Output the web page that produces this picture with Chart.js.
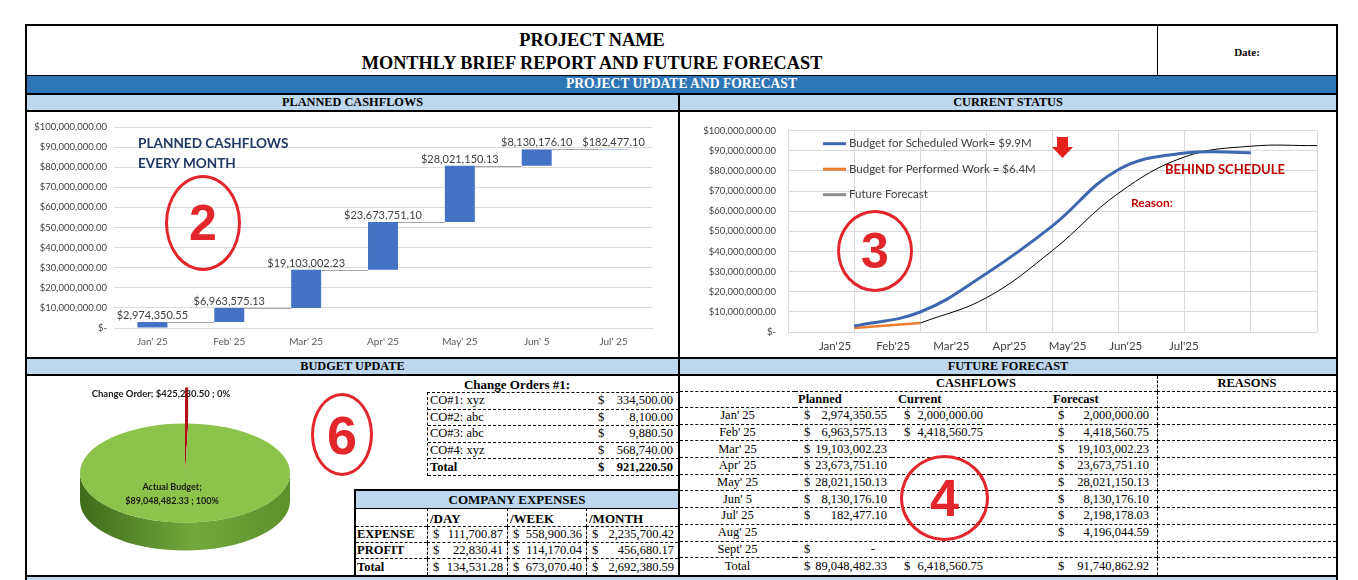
<!DOCTYPE html>
<html>
<head>
<meta charset="utf-8">
<title>Monthly Brief Report and Future Forecast</title>
<script src="https://cdn.jsdelivr.net/npm/chart.js@4.4.1/dist/chart.umd.min.js"></script>
<style>
  body { margin: 0; width: 1358px; height: 580px; overflow: hidden; background: #fff; position: relative; font-family: "Liberation Serif", "Times New Roman", serif; color: #000; }
  .abs { position: absolute; box-sizing: border-box; }
  .line { position: absolute; background: #000; }
  .band { position: absolute; background: #bdd7ee; font-weight: bold; font-size: 12.3px; text-align: center; line-height: 15px; }
  .ring { position: absolute; box-sizing: border-box; border: 3.5px solid #e2262b; border-radius: 50%; display: flex; align-items: center; justify-content: center; color: #e2262b; font: bold 50px/1 "Liberation Sans", Arial, sans-serif; }
  .grid { position: absolute; display: grid; font-size: 12.5px; }
  .grid > div { display: flex; align-items: center; box-sizing: border-box; border-bottom: 1px dashed #000; white-space: nowrap; overflow: hidden; }
  .money { justify-content: space-between; }
  .b { font-weight: bold; }
  .note { position: absolute; font-family: Lato, sans-serif; font-weight: bold; white-space: nowrap; }
</style>
</head>
<body>

<!-- header -->
<div class="abs" style="left:25px; top:24px; width:1313px; height:53px; border:2px solid #000;"></div>
<div class="line" style="left:1157px; top:24px; width:1px; height:53px;"></div>
<div class="abs b" style="left:27px; top:29px; width:1130px; text-align:center; font-size:18.3px; line-height:23px;">PROJECT NAME<br>MONTHLY BRIEF REPORT AND FUTURE FORECAST</div>
<div class="abs b" style="left:1158px; top:46px; width:178px; text-align:center; font-size:11px;">Date:</div>

<!-- blue band -->
<div class="abs b" style="left:25px; top:76px; width:1313px; height:19px; background:#2e75b6; color:#fff; border:2px solid #000; border-top:0; text-align:center; font-size:13.6px; line-height:16px;">PROJECT UPDATE AND FORECAST</div>

<!-- outer side borders -->
<div class="line" style="left:25px; top:95px; width:2px; height:485px;"></div>
<div class="line" style="left:1336px; top:95px; width:2px; height:485px;"></div>

<!-- section bands -->
<div class="band" style="left:27px; top:95px; width:651px; height:15px;">PLANNED CASHFLOWS</div>
<div class="band" style="left:680px; top:95px; width:656px; height:15px;">CURRENT STATUS</div>
<div class="line" style="left:27px; top:110px; width:1309px; height:2px;"></div>

<div class="line" style="left:27px; top:357px; width:1309px; height:2px;"></div>
<div class="band" style="left:27px; top:359px; width:651px; height:15px;">BUDGET UPDATE</div>
<div class="band" style="left:680px; top:359px; width:656px; height:15px;">FUTURE FORECAST</div>
<div class="line" style="left:27px; top:374px; width:1309px; height:2px;"></div>

<div class="line" style="left:27px; top:575px; width:1309px; height:2px;"></div>
<div class="abs" style="left:27px; top:577px; width:1309px; height:3px; background:#bdd7ee;"></div>

<div class="line" style="left:678px; top:95px; width:2px; height:482px;"></div>

<!-- charts -->
<div class="abs" style="left:30px; top:113px; width:644px; height:242px;"><canvas id="flowChart"></canvas></div>
<div class="abs" style="left:684px; top:113px; width:650px; height:242px;"><canvas id="statusChart"></canvas></div>
<div class="abs" style="left:70px; top:378px; width:230px; height:190px;"><canvas id="budgetPie"></canvas></div>

<!-- chart notes -->
<div class="note" style="left:138px; top:133px; font-size:13.6px; line-height:20px; color:#203864;">PLANNED CASHFLOWS<br>EVERY MONTH</div>
<div class="ring" style="left:165px; top:175px; width:76px; height:96px;">2</div>

<div class="ring" style="left:837px; top:210px; width:76px; height:82px;">3</div>
<svg class="abs" style="left:1052px; top:137px;" width="21" height="21"><polygon points="5,0 16,0 16,10 21,10 10.5,21 0,10 5,10" fill="#e8201c"/></svg>
<div class="note" style="left:1165px; top:161px; font-size:13px; color:#c00000;">BEHIND SCHEDULE</div>
<div class="note" style="left:1131px; top:195px; font-size:12px; color:#c00000;">Reason:</div>

<!-- change orders -->
<div class="abs b" style="left:355px; top:377px; width:324px; text-align:center; font-size:13px; line-height:15px;">Change Orders #1:</div>
<div class="grid" id="coTable" style="left:427px; top:392px; width:251px; grid-template-columns:163px 1fr; grid-auto-rows:16.6px; border-top:1px dashed #000; border-left:1px dashed #000;"></div>
<div class="ring" style="left:311px; top:393px; width:62px; height:83px; font-size:54px;">6</div>

<!-- company expenses -->
<div class="abs" style="left:354px; top:489px; width:325px; height:88px; border-left:2px solid #000; border-top:2px solid #000;"></div>
<div class="band" style="left:356px; top:491px; width:322px; height:17px; font-size:13px; line-height:17px; border-bottom:1px solid #000;">COMPANY EXPENSES</div>
<div class="grid" id="expTable" style="left:356px; top:508px; width:322px; grid-template-columns:71px 80px 79px 1fr; grid-template-rows:19px 16px 16px 16px;"></div>

<!-- future forecast -->
<div class="grid" id="ffTable" style="left:680px; top:376px; width:656px; grid-template-columns:115px 97px 98px 60px 107px 1fr; grid-template-rows:16px 16px repeat(10, 16.7px);"></div>
<div class="ring" style="left:900px; top:455px; width:89px; height:86px; font-size:52px;">4</div>

<script>
// planned cashflow waterfall
const flowMonths = ["Jan' 25", "Feb' 25", "Mar' 25", "Apr' 25", "May' 25", "Jun' 5", "Jul' 25"];
const plannedFlows = [2974350.55, 6963575.13, 19103002.23, 23673751.10, 28021150.13, 8130176.10, 182477.10];

// current status S-curves (x = month number, 1 = Jan)
const statusMonths = ["Jan'25", "Feb'25", "Mar'25", "Apr'25", "May'25", "Jun'25", "Jul'25"];
const scheduledStart = 1;
const scheduledWork = [2974350.55, 9937925.68, 29040927.91, 52714679.01, 80735829.14, 88866005.24, 89048482.34];
const performedStart = 1;
const performedWork = [2000000, 4418560.75];
const forecastStart = 2;
const futureForecast = [4418560.75, 17000000, 40500000, 69000000, 87000000, 92300000, 92600000];

// budget pie
const budgetLabels = ['Change Order', 'Actual Budget'];
const budgetValues = [425230.50, 89048482.33];

// tables
const coNames = ['CO#1: xyz', 'CO#2: abc', 'CO#3: abc', 'CO#4: xyz', 'Total'];
const coAmounts = ['334,500.00', '8,100.00', '9,880.50', '568,740.00', '921,220.50'];

const expRows = ['EXPENSE', 'PROFIT', 'Total'];
const expDay = ['111,700.87', '22,830.41', '134,531.28'];
const expWeek = ['558,900.36', '114,170.04', '673,070.40'];
const expMonth = ['2,235,700.42', '456,680.17', '2,692,380.59'];

const ffMonths = ["Jan' 25", "Feb' 25", "Mar' 25", "Apr' 25", "May' 25", "Jun' 5", "Jul' 25", "Aug' 25", "Sept' 25", 'Total'];
const ffPlanned = ['2,974,350.55', '6,963,575.13', '19,103,002.23', '23,673,751.10', '28,021,150.13', '8,130,176.10', '182,477.10', '', '-', '89,048,482.33'];
const ffCurrent = ['2,000,000.00', '4,418,560.75', '', '', '', '', '', '', '', '6,418,560.75'];
const ffForecast = ['2,000,000.00', '4,418,560.75', '19,103,002.23', '23,673,751.10', '28,021,150.13', '8,130,176.10', '2,198,178.03', '4,196,044.59', '', '91,740,862.92'];

function money(v) {
    return '$' + v.toLocaleString('en-US', { minimumFractionDigits: 2, maximumFractionDigits: 2 });
}
function axisMoney(v) {
    return v === 0 ? '$-' : money(v);
}
function cell(html, style) {
    return `<div style="${style || ''}">${html}</div>`;
}
function moneyCell(v, style) {
    if (v === '') return cell('', style);
    const pad = v === '-' ? 'padding-right:12px;' : '';
    return `<div class="money" style="${style || ''}"><span>$</span><span style="${pad}">${v}</span></div>`;
}

// ---- tables ----
let html = '';
coNames.forEach((name, i) => {
    const last = i === coNames.length - 1;
    const bold = last ? 'font-weight:bold;' : '';
    html += cell(name, bold + 'padding-left:2px;');
    html += moneyCell(coAmounts[i], bold + 'padding:0 6px 0 7px;');
});
document.getElementById('coTable').innerHTML = html;

html = cell('', '') +
    cell('/DAY', 'font-weight:bold; font-size:13px; border-left:1px dashed #000; padding:3px 0 0 2px;') +
    cell('/WEEK', 'font-weight:bold; font-size:13px; border-left:1px dashed #000; padding:3px 0 0 2px;') +
    cell('/MONTH', 'font-weight:bold; font-size:13px; border-left:1px dashed #000; padding:3px 0 0 2px;');
expRows.forEach((name, i) => {
    const edge = i === expRows.length - 1 ? 'border-bottom:0;' : '';
    html += cell(name, 'font-weight:bold; padding-left:1px;' + edge);
    html += moneyCell(expDay[i], 'border-left:1px dashed #000; padding:0 4px 0 5px;' + edge);
    html += moneyCell(expWeek[i], 'border-left:1px dashed #000; padding:0 4px 0 5px;' + edge);
    html += moneyCell(expMonth[i], 'border-left:1px dashed #000; padding:0 4px 0 5px;' + edge);
});
document.getElementById('expTable').innerHTML = html;

const reasonCol = 'border-left:1px dashed #000;';
html = cell('', '') +
    `<div style="grid-column: span 4; justify-content:center; font-weight:bold;">CASHFLOWS</div>` +
    cell('REASONS', 'font-weight:bold; justify-content:center;' + reasonCol) +
    cell('', '') +
    cell('Planned', 'font-weight:bold; padding-left:3px;') +
    cell('Current', 'font-weight:bold; padding-left:6px;') +
    cell('', '') +
    cell('Forecast', 'font-weight:bold; padding-left:3px;') +
    cell('', reasonCol);
ffMonths.forEach((m, i) => {
    const edge = i === ffMonths.length - 1 ? 'border-bottom:0;' : '';
    html += cell(m, 'justify-content:center;' + edge);
    html += moneyCell(ffPlanned[i], 'padding:0 5px 0 9px;' + edge);
    html += moneyCell(ffCurrent[i], 'padding:0 7px 0 12px;' + edge);
    html += cell('', edge);
    html += moneyCell(ffForecast[i], 'padding:0 8px 0 8px;' + edge);
    html += cell('', reasonCol + edge);
});
document.getElementById('ffTable').innerHTML = html;

// ---- charts ----
Chart.defaults.font.family = 'Lato, sans-serif';
Chart.defaults.color = '#404040';
Chart.defaults.animation = false;

// waterfall: each bar floats from the running total
let running = 0;
const steps = plannedFlows.map(v => {
    const s = [running, running + v];
    running += v;
    return s;
});

const waterfallExtras = {
    id: 'waterfallExtras',
    afterDatasetsDraw(chart) {
        const { ctx } = chart;
        const yScale = chart.scales.y;
        const bars = chart.getDatasetMeta(0).data;
        ctx.save();
        // connectors
        ctx.strokeStyle = '#a6a6a6';
        ctx.lineWidth = 1;
        for (let i = 0; i < bars.length - 1; i++) {
            const y = Math.round(yScale.getPixelForValue(steps[i][1])) + 0.5;
            ctx.beginPath();
            ctx.moveTo(bars[i].x + bars[i].width / 2, y);
            ctx.lineTo(bars[i + 1].x - bars[i + 1].width / 2, y);
            ctx.stroke();
        }
        // value labels
        ctx.fillStyle = '#404040';
        ctx.font = '11px Lato, sans-serif';
        ctx.textAlign = 'center';
        ctx.textBaseline = 'bottom';
        bars.forEach((bar, i) => {
            ctx.fillText(money(plannedFlows[i]), bar.x, yScale.getPixelForValue(steps[i][1]) - 1);
        });
        ctx.restore();
    }
};

new Chart(document.getElementById('flowChart'), {
    type: 'bar',
    data: {
        labels: flowMonths,
        datasets: [{
            data: steps,
            backgroundColor: '#4472c4',
            borderWidth: 0,
            barPercentage: 0.39,
            categoryPercentage: 1
        }]
    },
    options: {
        responsive: true,
        maintainAspectRatio: false,
        layout: { padding: { top: 14, right: 22, bottom: 1, left: 0 } },
        plugins: { legend: { display: false }, tooltip: { enabled: false } },
        scales: {
            x: {
                grid: { display: false, drawTicks: false },
                border: { color: '#d9d9d9' },
                ticks: { font: { size: 10 }, color: '#595959', padding: 8, maxRotation: 0 },
                afterFit(scale) { scale.height = 26; }
            },
            y: {
                min: 0,
                max: 100000000,
                grid: { color: '#d9d9d9', drawTicks: false },
                border: { display: false },
                ticks: { stepSize: 10000000, padding: 7, font: { size: 9.5 }, color: '#404040', callback: axisMoney },
                afterFit(scale) { scale.width = 84; }
            }
        }
    },
    plugins: [waterfallExtras]
});

// legend drawn inside the plot, one line per dataset
const insideLegend = {
    id: 'insideLegend',
    afterDraw(chart, args, opts) {
        const { ctx, chartArea } = chart;
        ctx.save();
        ctx.font = '11.5px Lato, sans-serif';
        ctx.textBaseline = 'middle';
        chart.data.datasets.forEach((ds, i) => {
            const x = chartArea.left + opts.left;
            const y = chartArea.top + opts.top + i * opts.gap;
            ctx.strokeStyle = ds.legendColor || ds.borderColor;
            ctx.lineWidth = 3;
            ctx.beginPath();
            ctx.moveTo(x, y);
            ctx.lineTo(x + 23, y);
            ctx.stroke();
            ctx.fillStyle = '#404040';
            ctx.fillText(ds.label, x + 26, y);
        });
        ctx.restore();
    }
};

function points(values, start) {
    return values.map((v, i) => ({ x: start + i, y: v }));
}

new Chart(document.getElementById('statusChart'), {
    type: 'line',
    data: {
        datasets: [{
            label: 'Budget for Scheduled Work= $9.9M',
            data: points(scheduledWork, scheduledStart),
            borderColor: '#3f67b0',
            borderWidth: 3,
            tension: 0.4,
            pointRadius: 0
        }, {
            label: 'Budget for Performed Work = $6.4M',
            data: points(performedWork, performedStart),
            borderColor: '#ed7d31',
            borderWidth: 2.5,
            pointRadius: 0
        }, {
            label: 'Future Forecast',
            data: points(futureForecast, forecastStart),
            borderColor: '#000000',
            legendColor: '#8c8c8c',
            borderWidth: 1,
            tension: 0.4,
            pointRadius: 0
        }]
    },
    options: {
        responsive: true,
        maintainAspectRatio: false,
        layout: { padding: { top: 12, right: 17, bottom: 0, left: 0 } },
        plugins: {
            legend: { display: false },
            tooltip: { enabled: false },
            insideLegend: { left: 35, top: 13, gap: 25.5 }
        },
        scales: {
            x: {
                type: 'linear',
                min: 0,
                max: 8,
                grid: { color: '#d9d9d9', drawTicks: false },
                border: { display: false },
                ticks: { stepSize: 1, display: false },
                afterFit(scale) { scale.height = 0; }
            },
            xl: {
                type: 'linear',
                position: 'bottom',
                min: 0.19,
                max: 9.29,
                grid: { display: false, drawTicks: false },
                border: { display: false },
                afterBuildTicks(scale) { scale.ticks = statusMonths.map((m, i) => ({ value: i + 1 })); },
                ticks: {
                    font: { size: 11.5 },
                    color: '#404040',
                    padding: 7,
                    maxRotation: 0,
                    autoSkip: false,
                    callback: v => statusMonths[v - 1]
                },
                afterFit(scale) { scale.height = 23; }
            },
            y: {
                min: 0,
                max: 100000000,
                grid: { color: '#d9d9d9', drawTicks: false },
                border: { display: false },
                ticks: { stepSize: 10000000, padding: 12, font: { size: 9.5 }, color: '#404040', callback: axisMoney },
                afterFit(scale) { scale.width = 104; }
            }
        }
    },
    plugins: [insideLegend]
});

// tilted pie: squash the drawing, add a side wall, lift the small slice out
const tiltedPie = {
    id: 'tiltedPie',
    beforeDatasetsDraw(chart, args, opts) {
        const arc = chart.getDatasetMeta(0).data[1];
        const cx = arc.x, cy = arc.y, rx = arc.outerRadius, ry = rx * opts.squash;
        const ctx = chart.ctx;
        ctx.save();
        const g = ctx.createLinearGradient(cx - rx, 0, cx + rx, 0);
        g.addColorStop(0, '#3f6b1a');
        g.addColorStop(0.55, '#72a93c');
        g.addColorStop(1, '#5b902c');
        ctx.fillStyle = g;
        ctx.beginPath();
        ctx.ellipse(cx, cy + opts.depth, rx, ry, 0, 0, Math.PI);
        ctx.lineTo(cx - rx, cy);
        ctx.ellipse(cx, cy, rx, ry, 0, Math.PI, 0, true);
        ctx.closePath();
        ctx.fill();
        ctx.translate(cx, cy);
        ctx.scale(1, opts.squash);
        ctx.translate(-cx, -cy);
    },
    afterDatasetsDraw(chart, args, opts) {
        const ctx = chart.ctx;
        const small = chart.getDatasetMeta(0).data[0];
        // exploded sliver: its top face raised, with its wall below it
        for (let k = opts.depth; k >= 0; k--) {
            ctx.save();
            ctx.translate(0, (k - opts.lift) / opts.squash);
            small.draw(ctx);
            ctx.restore();
        }
        ctx.restore();
    },
    afterDraw(chart) {
        const arc = chart.getDatasetMeta(0).data[1];
        const total = budgetValues.reduce((a, b) => a + b, 0);
        const pct = v => Math.round(v / total * 100) + '%';
        const ctx = chart.ctx;
        ctx.save();
        ctx.textAlign = 'center';
        ctx.textBaseline = 'middle';
        ctx.fillStyle = '#1a1a1a';
        ctx.font = 'bold 9.5px Lato, sans-serif';
        ctx.fillText(`${budgetLabels[0]}; ${money(budgetValues[0])} ; ${pct(budgetValues[0])}`, arc.x - 24, arc.y - 79);
        ctx.font = 'bold 9px Lato, sans-serif';
        ctx.fillText(`${budgetLabels[1]};`, arc.x - 13, arc.y + 14);
        ctx.fillText(`${money(budgetValues[1])} ; ${pct(budgetValues[1])}`, arc.x - 13, arc.y + 28);
        ctx.restore();
    }
};

new Chart(document.getElementById('budgetPie'), {
    type: 'pie',
    data: {
        labels: budgetLabels,
        datasets: [{
            data: budgetValues,
            backgroundColor: ['#b3121b', '#8cc34a'],
            borderWidth: 0,
            clip: false
        }]
    },
    options: {
        responsive: true,
        maintainAspectRatio: false,
        radius: 105,
        plugins: {
            legend: { display: false },
            tooltip: { enabled: false },
            tiltedPie: { squash: 0.472, depth: 28, lift: 36 }
        }
    },
    plugins: [tiltedPie]
});
</script>
</body>
</html>
